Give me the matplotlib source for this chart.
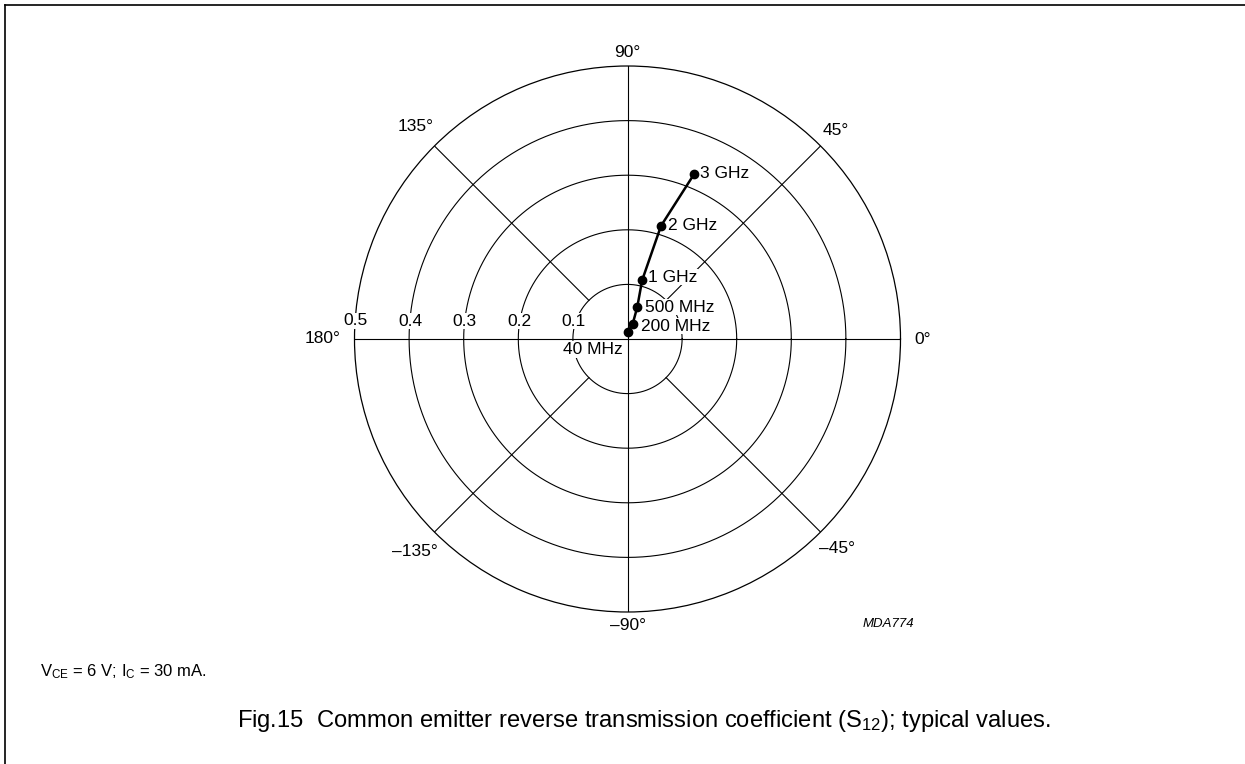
import numpy as np
import matplotlib
matplotlib.use('Agg')
import matplotlib.pyplot as plt
from matplotlib.lines import Line2D

plt.rcParams['font.family'] = ['Liberation Sans', 'DejaVu Sans']
plt.rcParams['mathtext.fontset'] = 'custom'
plt.rcParams['mathtext.rm'] = 'Liberation Sans'
plt.rcParams['mathtext.it'] = 'Liberation Sans:italic'

# S12 (magnitude, angle in degrees)
freq_labels = ['40 MHz', '200 MHz', '500 MHz', '1 GHz', '2 GHz', '3 GHz']
s12_mag = [0.012, 0.029, 0.061, 0.111, 0.216, 0.326]
s12_ang = [90, 71, 73, 76, 73.5, 68]

ring_values = [0.1, 0.2, 0.3, 0.4, 0.5]
ring_labels = ['0.1', '0.2', '0.3', '0.4', '0.5']
spoke_angles = [0, 45, 90, 135, 180, -135, -90, -45]
spoke_labels = ['0\u00b0', '45\u00b0', '90\u00b0', '135\u00b0', '180\u00b0',
                '\u2013135\u00b0', '\u201390\u00b0', '\u201345\u00b0']

W, H = 1245, 764
fig = plt.figure(figsize=(W / 100, H / 100), dpi=100)

cx, cy, R = 627.5, 339, 273
ax = fig.add_axes([(cx - R) / W, (H - cy - R) / H, 2 * R / W, 2 * R / H],
                  projection='polar')
ax.set_ylim(0, 0.5)
ax.set_xticks([])
ax.set_yticks([])
ax.grid(False)
ax.spines['polar'].set_linewidth(0.9)

lw_grid = 0.8
th = np.linspace(0, 2 * np.pi, 721)
for r in ring_values[:-1]:
    ax.plot(th, np.full_like(th, r), color='black', lw=lw_grid, zorder=1)

# spokes: axes go through the centre, diagonals start at the first ring
for a in spoke_angles:
    t = np.deg2rad(a)
    r0 = 0 if a % 90 == 0 else ring_values[0]
    ax.plot([t, t], [r0, 0.5], color='black', lw=lw_grid, zorder=1)

# angle labels just outside the outer ring
label_r = {0: 0.541, 45: 0.54, 90: 0.524, 135: 0.55, 180: 0.558,
           -135: 0.551, -90: 0.525, -45: 0.543}
for a, lab in zip(spoke_angles, spoke_labels):
    ax.text(np.deg2rad(a), label_r[a], lab, ha='center', va='center',
            fontsize=12.5, clip_on=False)

# magnitude labels above the 180 deg line
for r, lab in zip(ring_values, ring_labels):
    ax.annotate(lab, xy=(np.pi, r), xytext=(1, 18), textcoords='offset pixels',
                ha='center', va='center', fontsize=12.5, zorder=3,
                bbox=dict(facecolor='white', edgecolor='none', pad=0.5))

theta = np.deg2rad(s12_ang)
ax.plot(theta, s12_mag, color='black', lw=1.8, marker='o', markersize=6,
        zorder=5, clip_on=False)

offsets = [(-5, -17), (8, -2), (8, 0), (6, 3), (7, 0), (6, 0)]
for t, r, lab, off in zip(theta, s12_mag, freq_labels, offsets):
    ax.annotate(lab, xy=(t, r), xytext=off, textcoords='offset pixels',
                ha='right' if off[0] < 0 else 'left', va='center',
                fontsize=12.5, zorder=4,
                bbox=dict(facecolor='white', edgecolor='none', pad=0.5))

fig.text(888 / W, 1 - 624 / H, 'MDA774', style='italic', fontsize=9.5,
         ha='center', va='center')
fig.text(40 / W, 1 - 676 / H, r'V$_{\mathrm{CE}}$ = 6 V; I$_{\mathrm{C}}$ = 30 mA.',
         fontsize=12, ha='left', va='baseline')
fig.text(237 / W, 1 - 727 / H,
         r'Fig.15  Common emitter reverse transmission coefficient (S$_{\mathrm{12}}$); typical values.',
         fontsize=17.1, ha='left', va='baseline')

# page frame (top and left edges)
fig.add_artist(Line2D([5 / W, 1], [1 - 5 / H, 1 - 5 / H], color='black', lw=1.2))
fig.add_artist(Line2D([5 / W, 5 / W], [0, 1 - 5 / H], color='black', lw=1.2))

fig.savefig('out.png', dpi=100)
